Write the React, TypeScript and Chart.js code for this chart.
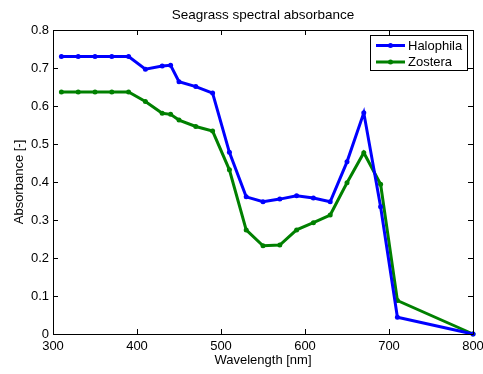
import React, { useEffect, useRef } from "react";
import { Chart, registerables } from "chart.js";

Chart.register(...registerables);

const titleText = "Seagrass spectral absorbance";
const xAxisLabel = "Wavelength [nm]";
const yAxisLabel = "Absorbance [-]";
const seriesNames = ["Halophila", "Zostera"];
const seriesColors = ["#0000ff", "#008000"];

const wavelengths = [310, 330, 350, 370, 390, 410, 430, 440, 450, 470, 490, 510, 530, 550, 570, 590, 610, 630, 650, 670, 690, 710, 800];
const halophila = [0.73, 0.73, 0.73, 0.73, 0.73, 0.697, 0.705, 0.707, 0.664, 0.651, 0.634, 0.478, 0.361, 0.348, 0.355, 0.364, 0.358, 0.348, 0.453, 0.582, 0.335, 0.044, 0];
const zostera = [0.637, 0.637, 0.637, 0.637, 0.637, 0.612, 0.581, 0.578, 0.563, 0.546, 0.534, 0.432, 0.274, 0.232, 0.234, 0.274, 0.293, 0.313, 0.398, 0.477, 0.394, 0.088, 0];

const xMin = 300;
const xMax = 800;
const xStep = 100;
const yMin = 0;
const yMax = 0.8;
const yStep = 0.1;

const FONT = "Helvetica, Arial, 'Liberation Sans', sans-serif";

const boxPlugin = {
  id: "matlabBox",
  afterDraw(chart: any) {
    const { ctx, chartArea } = chart;
    const { left, right, top, bottom } = chartArea;
    const xs = chart.scales.x;
    const ys = chart.scales.y;
    ctx.save();
    ctx.strokeStyle = "#000";
    ctx.lineWidth = 1;
    ctx.beginPath();
    ctx.rect(Math.round(left) + 0.5, Math.round(top) + 0.5, Math.round(right - left), Math.round(bottom - top));
    ctx.stroke();
    const tl = 5;
    ctx.beginPath();
    xs.ticks.forEach((t: any) => {
      const px = Math.round(xs.getPixelForValue(t.value)) + 0.5;
      ctx.moveTo(px, bottom);
      ctx.lineTo(px, bottom - tl);
      ctx.moveTo(px, top);
      ctx.lineTo(px, top + tl);
    });
    ys.ticks.forEach((t: any) => {
      const py = Math.round(ys.getPixelForValue(t.value)) + 0.5;
      ctx.moveTo(left, py);
      ctx.lineTo(left + tl, py);
      ctx.moveTo(right, py);
      ctx.lineTo(right - tl, py);
    });
    ctx.stroke();

    // legend
    const lx = 370.5, ly = 35.5, lw = 97, lh = 35;
    ctx.fillStyle = "#fff";
    ctx.fillRect(lx, ly, lw, lh);
    ctx.strokeStyle = "#000";
    ctx.strokeRect(lx, ly, lw, lh);
    ctx.font = "13px " + FONT;
    ctx.textBaseline = "middle";
    ctx.textAlign = "left";
    chart.data.datasets.forEach((ds: any, i: number) => {
      const cy = 45.5 + i * 16.5;
      ctx.strokeStyle = ds.borderColor;
      ctx.lineWidth = 3;
      ctx.beginPath();
      ctx.moveTo(376, cy);
      ctx.lineTo(405, cy);
      ctx.stroke();
      ctx.fillStyle = ds.borderColor;
      ctx.beginPath();
      ctx.arc(390.5, cy, 2.5, 0, Math.PI * 2);
      ctx.fill();
      ctx.fillStyle = "#000";
      ctx.fillText(ds.label, 408, cy + 0.5);
    });
    ctx.restore();
  },
};

export default function App() {
  const ref = useRef<HTMLCanvasElement | null>(null);
  useEffect(() => {
    if (!ref.current) return;
    const mk = (name: string, vals: number[], color: string) => ({
      label: name,
      data: wavelengths.map((w, i) => ({ x: w, y: vals[i] })),
      borderColor: color,
      backgroundColor: color,
      borderWidth: 3,
      pointRadius: 2.5,
      pointBorderWidth: 0,
      pointBackgroundColor: color,
      pointStyle: "circle",
      tension: 0,
      clip: false as any,
    });
    const chart = new Chart(ref.current, {
      type: "line",
      data: {
        datasets: [
          mk(seriesNames[0], halophila, seriesColors[0]),
          mk(seriesNames[1], zostera, seriesColors[1]),
        ],
      },
      options: {
        animation: false,
        responsive: false,
        devicePixelRatio: 1,
        layout: { padding: { top: 0, right: 10, left: 0, bottom: 0 } },
        plugins: {
          legend: { display: false },
          tooltip: { enabled: false },
          title: {
            display: true,
            fullSize: false,
            text: titleText,
            color: "#000",
            font: { family: FONT, size: 13.5, weight: "normal" as any, lineHeight: 1.2 },
            padding: { top: 7.5, bottom: 6.3 },
          },
        },
        scales: {
          x: {
            type: "linear",
            min: xMin,
            max: xMax,
            grid: { display: false, drawTicks: false },
            border: { display: false },
            ticks: {
              stepSize: xStep,
              color: "#000",
              padding: 5,
              font: { family: FONT, size: 13 },
              maxRotation: 0,
              callback: (v: any) => String(v),
            },
            title: {
              display: true,
              text: xAxisLabel,
              color: "#000",
              font: { family: FONT, size: 13, lineHeight: 1.2 },
              padding: { top: 0, bottom: 6 },
            },
            afterFit: (s: any) => {
              s.height = 40;
              s.paddingLeft = 0;
              s.paddingRight = 0;
            },
          },
          y: {
            type: "linear",
            min: yMin,
            max: yMax,
            grid: { display: false, drawTicks: false },
            border: { display: false },
            ticks: {
              stepSize: yStep,
              color: "#000",
              padding: 4,
              font: { family: FONT, size: 13 },
              callback: (v: any) => String(Math.round(v * 10) / 10),
            },
            title: {
              display: true,
              text: yAxisLabel,
              color: "#000",
              font: { family: FONT, size: 13, lineHeight: 1.2 },
              padding: { top: 12, bottom: 0 },
            },
            afterFit: (s: any) => {
              s.width = 53;
              s.paddingTop = 0;
              s.paddingBottom = 0;
            },
          },
        },
      },
      plugins: [boxPlugin],
    });
    return () => chart.destroy();
  }, []);
  return (
    <div style={{ position: "fixed", left: 0, top: 0, width: 483, height: 374, background: "#fff" }}>
      <canvas ref={ref} width={483} height={374} style={{ display: "block" }} />
    </div>
  );
}
